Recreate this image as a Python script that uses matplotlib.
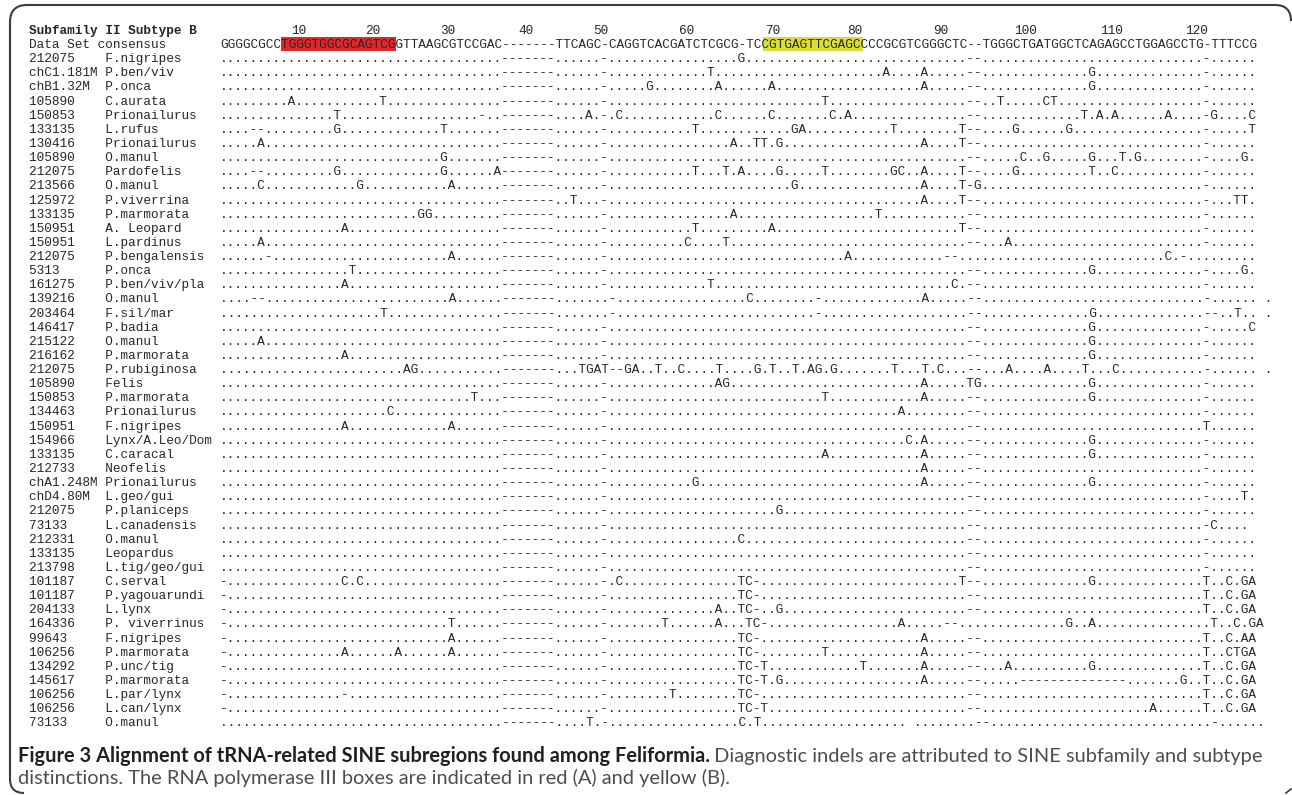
import matplotlib
matplotlib.use("Agg")
import matplotlib.pyplot as plt
from matplotlib.patches import Rectangle, PathPatch
from matplotlib.path import Path

W, H, DPI = 1292, 795, 100

header = "Subfamily II Subtype B"
tick_labels = ["10", "20", "30", "40", "50", "60", "70", "80", "90", "100", "110", "120"]
tick_pos = [10.3, 19.9, 29.8, 39.9, 49.8, 60.9, 72.2, 82.9, 94.2, 105.2, 116.5, 127.6]

consensus_name = "Data Set consensus"
consensus = ("GGGGCGCCTGGGTGGCGCAGTCGGTTAAGCGTCCGAC-------TTCAGC-CAGGTCACGATCTCGCG-TC"
             "CGTGAGTTCGAGCCCCGCGTCGGGCTC--TGGGCTGATGGCTCAGAGCCTGGAGCCTG-TTTCCG")
box_a = (8, 23)    # pol III box A (red)
box_b = (71, 84)   # pol III box B (yellow)

# rows: dots = same as consensus, gaps kept
base = "." * 37 + "-" * 7 + "." * 6 + "-" + "." * 47 + "--" + "." * 29 + "-" + "." * 6

ids = ["212075", "chC1.181M", "chB1.32M", "105890", "150853", "133135", "130416", "105890",
       "212075", "213566", "125972", "133135", "150951", "150951", "212075", "5313",
       "161275", "139216", "203464", "146417", "215122", "216162", "212075", "105890",
       "150853", "134463", "150951", "154966", "133135", "212733", "chA1.248M", "chD4.80M",
       "212075", "73133", "212331", "133135", "213798", "101187", "101187", "204133",
       "164336", "99643", "106256", "134292", "145617", "106256", "106256", "73133"]

species = ["F.nigripes", "P.ben/viv", "P.onca", "C.aurata", "Prionailurus", "L.rufus",
           "Prionailurus", "O.manul", "Pardofelis", "O.manul", "P.viverrina", "P.marmorata",
           "A. Leopard", "L.pardinus", "P.bengalensis", "P.onca", "P.ben/viv/pla", "O.manul",
           "F.sil/mar", "P.badia", "O.manul", "P.marmorata", "P.rubiginosa", "Felis",
           "P.marmorata", "Prionailurus", "F.nigripes", "Lynx/A.Leo/Dom", "C.caracal",
           "Neofelis", "Prionailurus", "L.geo/gui", "P.planiceps", "L.canadensis", "O.manul",
           "Leopardus", "L.tig/geo/gui", "C.serval", "P.yagouarundi", "L.lynx",
           "P. viverrinus", "F.nigripes", "P.marmorata", "P.unc/tig", "P.marmorata",
           "L.par/lynx", "L.can/lynx", "O.manul"]

# differences from the dotted row: (column, characters)
diffs = [
    [(68, "G")],
    [(64, "T"), (87, "A"), (92, "A"), (114, "G")],
    [(56, "G"), (65, "A"), (72, "A"), (92, "A"), (114, "G")],
    [(9, "A"), (21, "T"), (79, "T"), (102, "T"), (108, "CT")],
    [(15, "T"), (34, "-"), (48, "A"), (52, "C"), (65, "C"), (72, "C"), (80, "C"), (82, "A"),
     (113, "T"), (115, "A"), (117, "A"), (124, "A"), (130, "G"), (135, "C")],
    [(4, "--"), (15, "G"), (29, "T"), (62, "T"), (75, "GA"), (88, "T"), (97, "T"),
     (104, "G"), (111, "G"), (135, "T")],
    [(5, "A"), (67, "A"), (70, "TT"), (73, "G"), (92, "A"), (97, "T")],
    [(29, "G"), (105, "C"), (108, "G"), (114, "G"), (118, "T"), (120, "G"), (134, "G")],
    [(4, "--"), (15, "G"), (29, "G"), (36, "A"), (62, "T"), (66, "T"), (68, "A"), (73, "G"),
     (79, "T"), (88, "GC"), (92, "A"), (97, "T"), (104, "G"), (114, "T"), (117, "C")],
    [(5, "C"), (18, "G"), (30, "A"), (75, "G"), (92, "A"), (97, "T-G")],
    [(46, "T"), (92, "A"), (97, "T"), (133, "TT")],
    [(26, "GG"), (67, "A"), (86, "T")],
    [(16, "A"), (62, "T"), (72, "A"), (97, "T")],
    [(5, "A"), (61, "C"), (66, "T"), (103, "A")],
    [(6, "-"), (30, "A"), (82, "A"), (95, "--..."), (124, "C.-...")],
    [(17, "T"), (114, "G"), (134, "G")],
    [(16, "A"), (64, "T"), (96, "C")],
    [(4, "--"), (30, "A"), (50, ".-"), (69, "C"), (78, "-"), (92, "A"), (136, " .")],
    [(21, "T"), (50, ".-"), (78, "-"), (114, "G"), (129, "--..T.. .")],
    [(114, "G"), (135, "C")],
    [(5, "A"), (114, "G")],
    [(16, "A"), (114, "G")],
    [(24, "AG"), (47, "TGAT--GA"), (57, "T"), (60, "C"), (65, "T"), (70, "G"), (72, "T"),
     (75, "T"), (77, "AG"), (80, "G"), (88, "T"), (92, "T"), (94, "C"), (103, "A"),
     (108, "A"), (113, "T"), (117, "C"), (136, " .")],
    [(65, "AG"), (92, "A"), (98, "TG"), (114, "G")],
    [(33, "T"), (79, "T"), (92, "A"), (114, "G")],
    [(22, "C"), (89, "A")],
    [(16, "A"), (30, "A"), (129, "T")],
    [(90, "C"), (92, "A"), (114, "G")],
    [(79, "A"), (92, "A"), (114, "G")],
    [(92, "A")],
    [(62, "G"), (92, "A"), (114, "G")],
    [(134, "T")],
    [(73, "G")],
    [(129, "-C.... ")],
    [(68, "C")],
    [],
    [],
    [(0, "-"), (16, "C"), (18, "C"), (52, "C"), (68, "TC-"), (97, "T"), (114, "G"),
     (128, ".T..C.GA")],
    [(0, "-"), (68, "TC-"), (128, ".T..C.GA")],
    [(0, "-"), (65, "A"), (68, "TC-"), (73, "G"), (128, ".T..C.GA")],
    [(0, "-"), (30, "T"), (58, "T"), (65, "A"), (68, ".TC-"), (89, "A"), (95, "--..."),
     (111, "G"), (114, "A"), (129, ".T..C.GA")],
    [(0, "-"), (30, "A"), (68, "TC-"), (92, "A"), (128, ".T..C.AA")],
    [(0, "-"), (16, "A"), (23, "A"), (30, "A"), (68, "TC-"), (79, "T"), (92, "A"),
     (128, ".T..CTGA")],
    [(0, "-"), (68, "TC-T"), (84, "T"), (92, "A"), (103, "A"), (114, "G"), (128, ".T..C.GA")],
    [(0, "-"), (68, "TC-T.G"), (92, "A"), (105, "-" * 14), (126, "G"), (128, ".T..C.GA")],
    [(0, "-"), (16, "-"), (59, "T"), (68, "TC-"), (128, ".T..C.GA")],
    [(0, "-"), (68, "TC-T"), (122, "A"), (128, ".T..C.GA")],
    [(48, "T"), (68, "C.T"), (90, " "), (98, ".--"), (129, ".-......")],
]

caption_bold = "Figure 3 Alignment of tRNA-related SINE subregions found among Feliformia."
caption_1 = " Diagnostic indels are attributed to SINE subfamily and subtype"
caption_2 = "distinctions. The RNA polymerase III boxes are indicated in red (A) and yellow (B)."


def build(diff):
    s = list(base)
    for col, txt in diff:
        for n, ch in enumerate(txt):
            if col + n >= len(s):
                s.extend(" " * (col + n - len(s) + 1))
            s[col + n] = ch
    return "".join(s).rstrip()


fig = plt.figure(figsize=(W / DPI, H / DPI), dpi=DPI)
frame = fig.add_axes([0, 0, 1, 1])
frame.set_xlim(0, W)
frame.set_ylim(H, 0)
frame.axis("off")

# alignment axes: x in character columns, y in text lines
col_w, pitch, x0, y0 = 7.65, 14.13, 29, 30
aln = fig.add_axes([0, 0, 1, 1])
aln.set_xlim(-x0 / col_w, (W - x0) / col_w)
aln.set_ylim((H - y0) / pitch, -y0 / pitch)
aln.axis("off")

px_col = aln.transData.transform((1, 0))[0] - aln.transData.transform((0, 0))[0]
fs = px_col / 0.6 * 72 / DPI
mono = "Liberation Mono"
ink = "#262626"
seq0 = 25
dy = 0.28

aln.text(0, dy, header, family=mono, size=fs, weight="bold", va="baseline", color=ink)
for lab, p in zip(tick_labels, tick_pos):
    aln.text(seq0 + p, dy, lab, family=mono, size=fs, ha="center", va="baseline", color=ink)

aln.add_patch(Rectangle((seq0 + box_a[0], 0.5), box_a[1] - box_a[0], 1.0,
                        facecolor="#e2272a", edgecolor="none"))
aln.add_patch(Rectangle((seq0 + box_b[0], 0.5), box_b[1] - box_b[0], 1.0,
                        facecolor="#dcdc37", edgecolor="none"))
aln.text(0, 1 + dy, consensus_name, family=mono, size=fs, va="baseline", color=ink)
aln.text(seq0, 1 + dy, consensus, family=mono, size=fs, va="baseline", color=ink)

for k, (i, sp, d) in enumerate(zip(ids, species, diffs)):
    j = k + 2
    aln.text(0, j + dy, f"{i:<10}{sp}", family=mono, size=fs, va="baseline", color=ink)
    aln.text(seq0, j + dy, build(d), family=mono, size=fs, va="baseline", color=ink)

# frame
verts = [(24, 793), (10, 793), (10, 779), (10, 22), (10, 5), (27, 5),
         (1275, 5), (1291, 5), (1291, 21)]
codes = [Path.MOVETO, Path.CURVE3, Path.CURVE3, Path.LINETO, Path.CURVE3, Path.CURVE3,
         Path.LINETO, Path.CURVE3, Path.CURVE3]
frame.add_patch(PathPatch(Path(verts, codes), facecolor="none", edgecolor="#3c3c3c", lw=1.5))
frame.plot([1286, 1291], [793, 789], color="#3c3c3c", lw=1.2)

# caption, sized to span the figure width
cx, target = 18, 1245
cap_font = "Lato"
tb = frame.text(cx, 762, caption_bold, family=cap_font, weight="bold", size=13,
                va="baseline", color="#231f20")
tr = frame.text(cx, 762, caption_1, family=cap_font, size=13, va="baseline", color="#4d4d4d")
r = fig.canvas.get_renderer()
wb = tb.get_window_extent(r).width
wr = tr.get_window_extent(r).width
scale = target / (wb + wr)
cap_fs = 13 * scale
tb.set_size(cap_fs)
tr.set_size(cap_fs)
tr.set_x(cx + wb * scale)
frame.text(cx, 784, caption_2, family=cap_font, size=cap_fs, va="baseline", color="#4d4d4d")

fig.savefig("out.png", dpi=DPI)
